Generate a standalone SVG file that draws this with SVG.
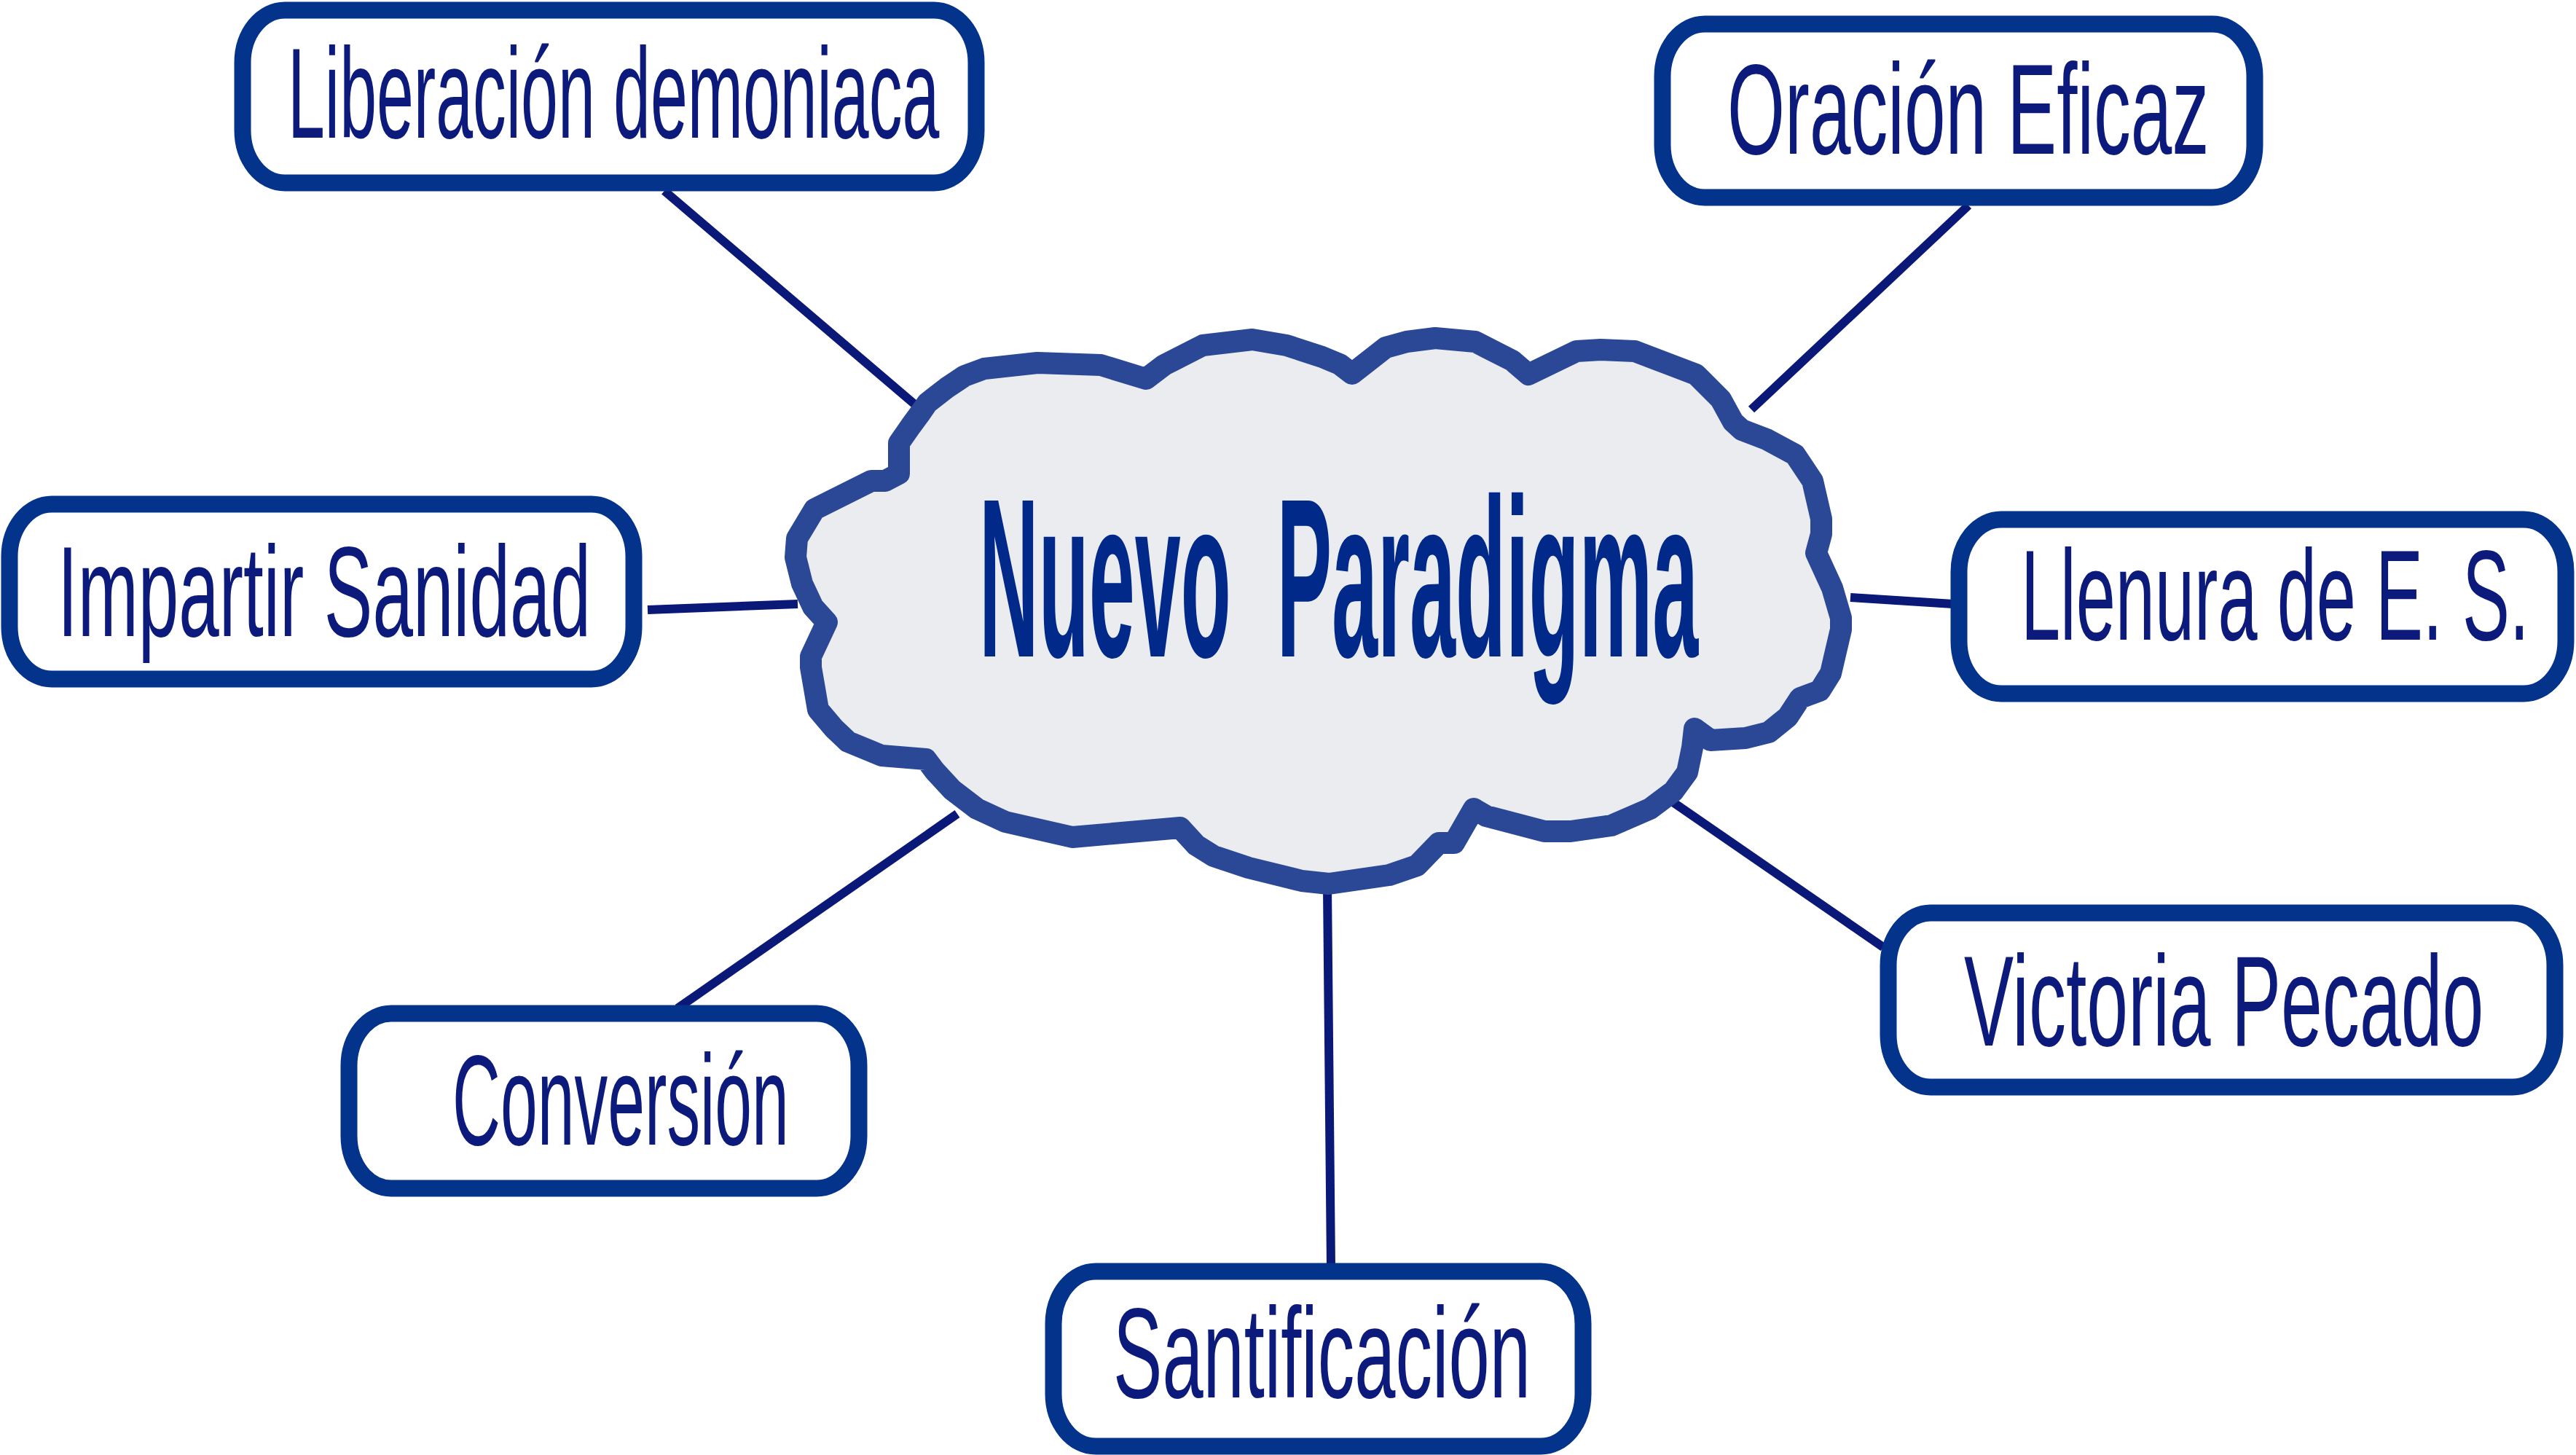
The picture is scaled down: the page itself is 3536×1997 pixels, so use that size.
<svg xmlns="http://www.w3.org/2000/svg" width="3536" height="1997" viewBox="0 0 3536 1997">
<style>
.box{fill:#ffffff;stroke:#04338C;stroke-width:23}
.lbl{font-family:"Liberation Sans",Arial,sans-serif;font-size:176px;fill:#0C1A7C}
.conn{stroke:#0A1878;stroke-width:12;fill:none}
.cloud{fill:#EBECEF;stroke:#2B4897;stroke-width:30;stroke-linejoin:round}
.title{font-family:"Liberation Sans",Arial,sans-serif;font-weight:bold;font-size:311px;fill:#00298A}
</style>
<rect x="0" y="0" width="3536" height="1997" fill="#ffffff"/>
<g id="connectors">
<line class="conn" x1="912" y1="262" x2="1258" y2="557"/>
<line class="conn" x1="2702" y1="282" x2="2404" y2="562"/>
<line class="conn" x1="889" y1="837" x2="1095" y2="829"/>
<line class="conn" x1="2540" y1="820" x2="2681" y2="829"/>
<line class="conn" x1="2295" y1="1100" x2="2585" y2="1300"/>
<line class="conn" x1="1314" y1="1117" x2="930" y2="1384"/>
<line class="conn" x1="1822" y1="1218" x2="1827" y2="1738"/>
</g>
<g id="center">
<path class="cloud" d="M1273,553 L1300,532 L1324,516 L1351,506 L1424,498 L1511,501 L1573,520 L1598,501 L1651,474 L1719,466 L1766,474 L1815,490 L1839,500 L1856,513 L1902,477 L1931,469 L1970,464 L2025,469 L2076,495 L2098,514 L2164,482 L2197,480 L2244,482 L2328,514 L2362,548 L2379,579 L2391,590 L2425,603 L2464,624 L2488,660 L2500,712 L2500,733 L2493,759 L2515,807 L2527,848 L2527,864 L2513,924 L2498,948 L2471,958 L2454,984 L2428,1005 L2396,1013 L2348,1016 L2326,1000 L2323,1026 L2316,1060 L2297,1086 L2265,1110 L2212,1133 L2156,1141 L2120,1141 L2040,1120 L2023,1110 L1996,1157 L1975,1157 L1945,1188 L1907,1201 L1824,1213 L1787,1209 L1714,1191 L1666,1175 L1642,1160 L1620,1136 L1472,1149 L1380,1128 L1341,1110 L1307,1084 L1283,1058 L1271,1042 L1210,1037 L1164,1018 L1145,1000 L1123,974 L1113,916 L1113,901 L1128,869 L1135,854 L1116,833 L1101,801 L1092,765 L1094,739 L1118,699 L1196,660 L1215,660 L1234,650 L1234,608 L1250,585 L1264,566 Z"/>
<text class="title" transform="translate(1344,901) scale(0.364,1)" x="0" y="0" textLength="2712" lengthAdjust="spacingAndGlyphs" xml:space="preserve">Nuevo  Paradigma</text>
</g>
<g id="n-liberacion">
<rect class="box" x="333" y="14" width="1007" height="237" rx="58" ry="72"/>
<text class="lbl" transform="translate(395,189) scale(0.519,1)" x="0" y="0" textLength="1723" lengthAdjust="spacingAndGlyphs">Liberación demoniaca</text>
</g>
<g id="n-oracion">
<rect class="box" x="2282" y="33" width="813" height="238" rx="58" ry="72"/>
<text class="lbl" transform="translate(2371,211) scale(0.578,1)" x="0" y="0" textLength="1144" lengthAdjust="spacingAndGlyphs">Oración Eficaz</text>
</g>
<g id="n-impartir">
<rect class="box" x="13" y="692" width="857" height="240" rx="58" ry="72"/>
<text class="lbl" transform="translate(79,873) scale(0.567,1)" x="0" y="0" textLength="1291" lengthAdjust="spacingAndGlyphs">Impartir Sanidad</text>
</g>
<g id="n-llenura">
<rect class="box" x="2689" y="713" width="833" height="239" rx="58" ry="72"/>
<text class="lbl" transform="translate(2774,878) scale(0.553,1)" x="0" y="0" textLength="1262" lengthAdjust="spacingAndGlyphs">Llenura de E. S.</text>
</g>
<g id="n-victoria">
<rect class="box" x="2592" y="1253" width="915" height="239" rx="58" ry="72"/>
<text class="lbl" transform="translate(2696,1435) scale(0.578,1)" x="0" y="0" textLength="1234" lengthAdjust="spacingAndGlyphs">Victoria Pecado</text>
</g>
<g id="n-conversion">
<rect class="box" x="479" y="1391" width="700" height="240" rx="58" ry="72"/>
<text class="lbl" transform="translate(621,1571) scale(0.519,1)" x="0" y="0" textLength="890" lengthAdjust="spacingAndGlyphs">Conversión</text>
</g>
<g id="n-santificacion">
<rect class="box" x="1446" y="1745" width="727" height="240" rx="58" ry="72"/>
<text class="lbl" transform="translate(1528,1918) scale(0.574,1)" x="0" y="0" textLength="998" lengthAdjust="spacingAndGlyphs">Santificación</text>
</g>
</svg>
